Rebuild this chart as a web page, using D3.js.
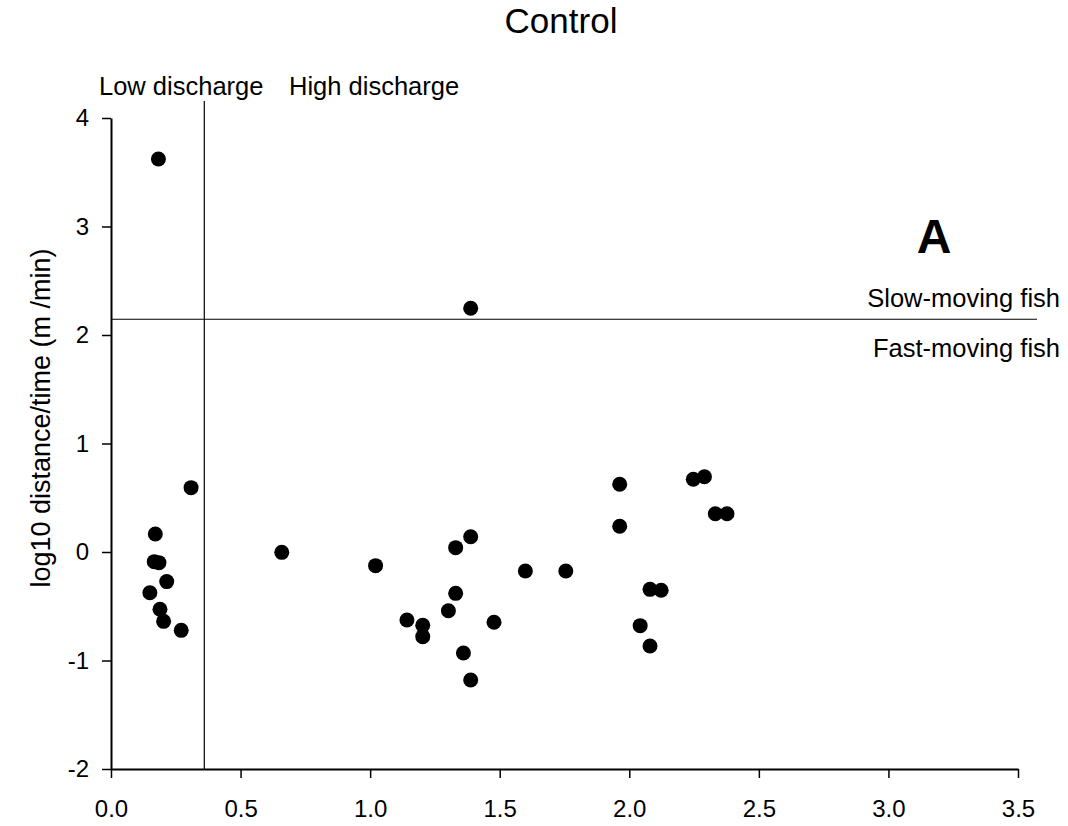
<!DOCTYPE html>
<html>
<head>
<meta charset="utf-8">
<script src="https://cdn.jsdelivr.net/npm/d3@7"></script>
<style>
  body { margin: 0; background: #fff; }
</style>
</head>
<body>
<svg id="chart"></svg>
<script>
// discharge (x) vs log10 distance/time (y)
var xVals = [0.183, 0.309, 0.171, 0.167, 0.185, 0.215, 0.150, 0.189, 0.203, 0.271,
             0.659, 1.021, 1.330, 1.388, 1.330, 1.302, 1.142, 1.203, 1.203, 1.478,
             1.360, 1.388, 1.599, 1.755, 1.963, 1.963, 2.247, 2.290, 2.332, 2.377,
             2.080, 2.123, 2.042, 2.080, 1.388];
var yVals = [3.622, 0.593, 0.166, -0.089, -0.098, -0.273, -0.375, -0.528, -0.639, -0.722,
             -0.003, -0.126, 0.040, 0.141, -0.381, -0.541, -0.627, -0.676, -0.780, -0.648,
             -0.931, -1.180, -0.175, -0.175, 0.624, 0.237, 0.670, 0.694, 0.353, 0.353,
             -0.344, -0.353, -0.679, -0.866, 2.246];

var xTicks = [0, 0.5, 1, 1.5, 2, 2.5, 3, 3.5];
var yTicks = [-2, -1, 0, 1, 2, 3, 4];

var dischargeSplit = 0.36;
var speedSplit = 2.145;

var data = xVals.map(function (x, i) { return { x: x, y: yVals[i] }; });

var width = 1068, height = 826;
var font = "Liberation Sans, Arial, sans-serif";

var x = d3.scaleLinear().domain([0, 3.5]).range([111, 1018]);
var y = d3.scaleLinear().domain([-2, 4]).range([769, 118]);

var svg = d3.select("#chart")
    .attr("width", width)
    .attr("height", height)
    .attr("font-family", font);

var xAxis = g => g
    .attr("transform", `translate(0,${y(-2)})`)
    .call(d3.axisBottom(x).tickValues(xTicks).tickFormat(d => d.toFixed(1)).tickSizeInner(9).tickSizeOuter(0))
    .attr("font-family", font)
    .call(g => g.select(".domain").attr("stroke-width", 2))
    .call(g => g.selectAll(".tick line").attr("stroke-width", 1.5))
    .call(g => g.selectAll(".tick text").attr("font-size", 24).attr("dy", "1.5em"));

var yAxis = g => g
    .attr("transform", `translate(${x(0)},0)`)
    .call(d3.axisLeft(y).tickValues(yTicks).tickFormat(d => String(d)).tickSizeInner(9).tickSizeOuter(0))
    .attr("font-family", font)
    .call(g => g.select(".domain").attr("stroke-width", 2))
    .call(g => g.selectAll(".tick line").attr("stroke-width", 1.5))
    .call(g => g.selectAll(".tick text").attr("font-size", 24).attr("x", -22));

// reference lines
svg.append("line")
    .attr("x1", x(dischargeSplit)).attr("x2", x(dischargeSplit))
    .attr("y1", 101).attr("y2", y(-2))
    .attr("stroke", "#000").attr("stroke-width", 1.2);

svg.append("line")
    .attr("x1", x(0)).attr("x2", 1037)
    .attr("y1", y(speedSplit)).attr("y2", y(speedSplit))
    .attr("stroke", "#000").attr("stroke-width", 1.2);

svg.append("g").call(xAxis);
svg.append("g").call(yAxis);

svg.append("g")
    .selectAll("circle")
    .data(data)
    .join("circle")
    .attr("cx", d => x(d.x))
    .attr("cy", d => y(d.y))
    .attr("r", 7.5)
    .attr("fill", "#000");

// labels
svg.append("text").attr("x", 561).attr("y", 33).attr("text-anchor", "middle")
    .attr("font-size", 35).text("Control");

svg.append("text").attr("x", 99).attr("y", 95).attr("font-size", 25.5).text("Low discharge");
svg.append("text").attr("x", 289).attr("y", 95).attr("font-size", 25.5).text("High discharge");

svg.append("text").attr("x", 1060).attr("y", 307).attr("text-anchor", "end")
    .attr("font-size", 25.5).text("Slow-moving fish");
svg.append("text").attr("x", 1060).attr("y", 357).attr("text-anchor", "end")
    .attr("font-size", 25.5).text("Fast-moving fish");

svg.append("text").attr("x", 934).attr("y", 253).attr("text-anchor", "middle")
    .attr("font-size", 48).attr("font-weight", "bold").text("A");

svg.append("text")
    .attr("transform", "translate(50,418) rotate(-90)")
    .attr("text-anchor", "middle")
    .attr("font-size", 27)
    .text("log10 distance/time (m /min)");
</script>
</body>
</html>
